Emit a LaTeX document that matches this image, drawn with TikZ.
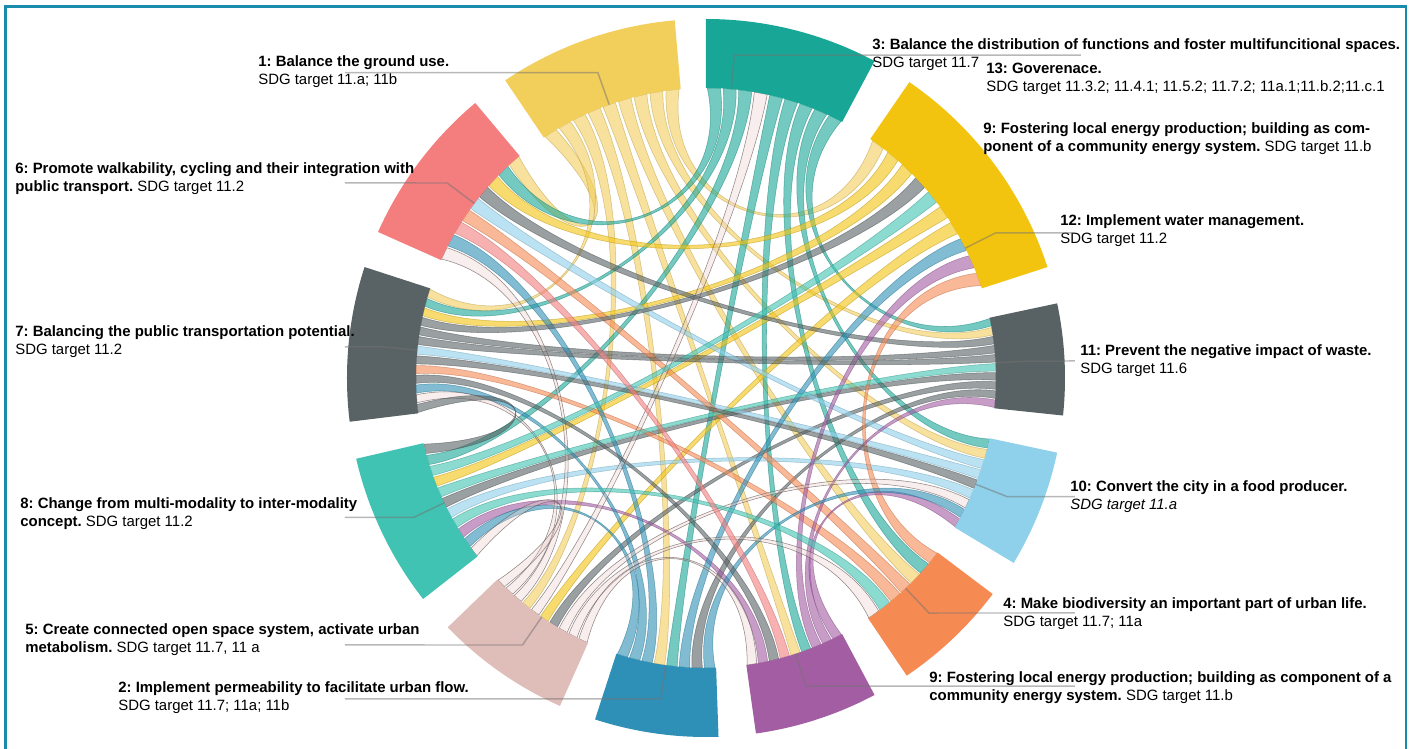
\documentclass[tikz,border=0pt]{standalone}
\usepackage{fontspec}
\setmainfont{Liberation Sans}
\usetikzlibrary{calc}
\frenchspacing

% segment colours
\definecolor{cGround}{RGB}{242,206,90}
\definecolor{cFunc}{RGB}{24,167,151}
\definecolor{cWater}{RGB}{242,196,15}
\definecolor{cWaste}{RGB}{88,97,99}
\definecolor{cFood}{RGB}{143,208,235}
\definecolor{cBio}{RGB}{246,138,83}
\definecolor{cEnergy}{RGB}{163,93,163}
\definecolor{cPerm}{RGB}{46,144,182}
\definecolor{cOpen}{RGB}{223,189,185}
\definecolor{cModal}{RGB}{64,195,179}
\definecolor{cTransit}{RGB}{89,98,100}
\definecolor{cWalk}{RGB}{244,126,126}
\definecolor{cFrame}{RGB}{24,140,170}

\newcommand\rin{290}
\newcommand\rout{359}
\newcommand\hub{165}

% segment: name, first angle, slot width, half ribbon width, middle angle
\newcommand\defseg[5]{%
  \expandafter\def\csname sgS#1\endcsname{#2}%
  \expandafter\def\csname sgD#1\endcsname{#3}%
  \expandafter\def\csname sgH#1\endcsname{#4}%
  \expandafter\def\csname sgM#1\endcsname{#5}}

% ribbon from slot #2 of segment #1 to slot #4 of segment #3
\newcommand\ribbon[5]{%
  \pgfmathsetmacro\rbSc{\csname sgS#1\endcsname+(#2+0.5)*\csname sgD#1\endcsname}%
  \pgfmathsetmacro\rbSa{\rbSc-\csname sgH#1\endcsname}%
  \pgfmathsetmacro\rbSb{\rbSc+\csname sgH#1\endcsname}%
  \pgfmathsetmacro\rbTc{\csname sgS#3\endcsname+(#4+0.5)*\csname sgD#3\endcsname}%
  \pgfmathsetmacro\rbTa{\rbTc-\csname sgH#3\endcsname}%
  \pgfmathsetmacro\rbTb{\rbTc+\csname sgH#3\endcsname}%
  % control angles pulled towards the middle of each segment
  \pgfmathsetmacro\rbCa{\csname sgM#1\endcsname+0.3*(\rbSa-\csname sgM#1\endcsname)}%
  \pgfmathsetmacro\rbCb{\csname sgM#1\endcsname+0.3*(\rbSb-\csname sgM#1\endcsname)}%
  \pgfmathsetmacro\rbDa{\csname sgM#3\endcsname+0.3*(\rbTa-\csname sgM#3\endcsname)}%
  \pgfmathsetmacro\rbDb{\csname sgM#3\endcsname+0.3*(\rbTb-\csname sgM#3\endcsname)}%
  \path[#5] (\rbSa:\rin) arc[start angle=\rbSa, end angle=\rbSb, radius=\rin]
    .. controls (\rbCb:\hub) and (\rbDa:\hub) .. (\rbTa:\rin)
    arc[start angle=\rbTa, end angle=\rbTb, radius=\rin]
    .. controls (\rbDb:\hub) and (\rbCa:\hub) .. (\rbSa:\rin) -- cycle;}

\defseg{Wa}{-6}{1.8}{0.75}{3}
\defseg{Wt}{18}{3.75}{1.3}{36.75}
\defseg{Fu}{62}{3.111}{1.3}{76}
\defseg{Gr}{95}{3.222}{1.3}{109.5}
\defseg{Wk}{130}{2.889}{1.25}{143}
\defseg{Tr}{162}{1.923}{0.8}{174.5}
\defseg{Mo}{193}{2.273}{0.95}{205.5}
\defseg{Op}{224}{2.2}{0.9}{235}
\defseg{Pe}{252}{2.5}{1.05}{262}
\defseg{En}{278}{2.222}{0.95}{288}
\defseg{Bi}{304}{2.714}{1.2}{313.5}
\defseg{Fo}{329}{2.111}{0.9}{338.5}

\begin{document}
\begin{tikzpicture}[x=0.02cm, y=0.02cm,
    rb/.style={fill=#1, fill opacity=0.6, draw=#1!75!black, draw opacity=0.55, line width=0.3pt},
    rbopen/.style={fill=cOpen!70, fill opacity=0.35, draw=cOpen!45!black, draw opacity=0.7, line width=0.3pt},
    lead/.style={draw=black!55, opacity=0.5, line width=0.85pt},
    lbl/.style={anchor=west, align=left, inner sep=0pt, font=\fontsize{8.5}{10.2}\selectfont},
    frame/.style={draw=cFrame, line width=1.7pt}]

    \useasboundingbox (-706,-371) rectangle (705,378);
    \fill[white] (-706,-371) rectangle (705,378);
    \draw[frame] (-700,-400) rectangle (700,371);

    % Ribbons
    \ribbon{Gr}{8}{Wk}{0}{rb=cGround}
    \ribbon{Gr}{7}{Tr}{0}{rb=cGround}
    \ribbon{Gr}{5}{Pe}{3}{rb=cGround}
    \ribbon{Gr}{4}{En}{4}{rb=cGround}
    \ribbon{Gr}{3}{Bi}{4}{rb=cGround}
    \ribbon{Gr}{2}{Fo}{7}{rb=cGround}
    \ribbon{Gr}{1}{Wa}{8}{rb=cGround}
    \ribbon{Gr}{0}{Wt}{9}{rb=cGround}
    \ribbon{Gr}{6}{Op}{3}{rb=cGround}
    \ribbon{Fu}{7}{Tr}{1}{rb=cFunc}
    \ribbon{Fu}{6}{Mo}{1}{rb=cFunc}
    \ribbon{Fu}{4}{Pe}{4}{rb=cFunc}
    \ribbon{Fu}{3}{En}{5}{rb=cFunc}
    \ribbon{Fu}{2}{Bi}{5}{rb=cFunc}
    \ribbon{Fu}{1}{Fo}{8}{rb=cFunc}
    \ribbon{Fu}{0}{Wa}{9}{rb=cFunc}
    \ribbon{Fu}{8}{Wk}{1}{rb=cFunc}
    \ribbon{Wt}{7}{Tr}{2}{rb=cWater}
    \ribbon{Wt}{8}{Wk}{2}{rb=cWater}
    \ribbon{Wt}{4}{Mo}{3}{rb=cWater}
    \ribbon{Wt}{3}{Op}{5}{rb=cWater}
    \ribbon{Wa}{6}{Tr}{4}{rb=cWaste}
    \ribbon{Wa}{3}{Mo}{5}{rb=cWaste}
    \ribbon{Wa}{7}{Wk}{3}{rb=cWaste}
    \ribbon{Wa}{2}{Op}{6}{rb=cWaste}
    \ribbon{Wa}{1}{Pe}{6}{rb=cWaste}
    \ribbon{Fo}{5}{Tr}{6}{rb=cFood}
    \ribbon{Fo}{3}{Mo}{6}{rb=cFood}
    \ribbon{Fo}{6}{Wk}{4}{rb=cFood}
    \ribbon{Bi}{3}{Wk}{5}{rb=cBio}
    \ribbon{Bi}{2}{Tr}{8}{rb=cBio}
    \ribbon{Bi}{6}{Wt}{0}{rb=cBio}
    \ribbon{En}{6}{Wt}{1}{rb=cEnergy}
    \ribbon{En}{7}{Wa}{0}{rb=cEnergy}
    \ribbon{En}{8}{Fo}{0}{rb=cEnergy}
    \ribbon{En}{1}{Mo}{8}{rb=cEnergy}
    \ribbon{Pe}{2}{Wk}{7}{rb=cPerm}
    \ribbon{Pe}{5}{Wt}{2}{rb=cPerm}
    \ribbon{Pe}{7}{Fo}{1}{rb=cPerm}
    \ribbon{Pe}{1}{Tr}{10}{rb=cPerm}
    \ribbon{Pe}{0}{Mo}{9}{rb=cPerm}
    \ribbon{Op}{4}{Fu}{5}{rbopen}
    \ribbon{Op}{7}{Fo}{2}{rbopen}
    \ribbon{Op}{8}{Bi}{0}{rbopen}
    \ribbon{Op}{9}{En}{0}{rbopen}
    \ribbon{Op}{2}{Wk}{8}{rbopen}
    \ribbon{Op}{1}{Tr}{11}{rbopen}
    \ribbon{Op}{0}{Mo}{10}{rbopen}
    \ribbon{Mo}{7}{Bi}{1}{rb=cModal}
    \ribbon{Mo}{4}{Wa}{4}{rb=cModal}
    \ribbon{Mo}{2}{Wt}{5}{rb=cModal}
    \ribbon{Tr}{5}{Wa}{5}{rb=cTransit}
    \ribbon{Tr}{3}{Wt}{6}{rb=cTransit}
    \ribbon{Tr}{7}{Fo}{4}{rb=cTransit}
    \ribbon{Tr}{9}{En}{2}{rb=cTransit}
    \ribbon{Tr}{12}{Mo}{0}{rb=cTransit}
    \ribbon{Wk}{6}{En}{3}{rb=cWalk}

    % Segments
    \fill[cWaste] (-6:\rin) arc[start angle=-6, end angle=12, radius=\rin] -- (12:\rout) arc[start angle=12, end angle=-6, radius=\rout] -- cycle;
    \fill[cWater] (18:\rin) arc[start angle=18, end angle=55.5, radius=\rin] -- (55.5:\rout) arc[start angle=55.5, end angle=18, radius=\rout] -- cycle;
    \fill[cFunc] (62:\rin) arc[start angle=62, end angle=90, radius=\rin] -- (90:\rout) arc[start angle=90, end angle=62, radius=\rout] -- cycle;
    \fill[cGround] (95:\rin) arc[start angle=95, end angle=124, radius=\rin] -- (124:\rout) arc[start angle=124, end angle=95, radius=\rout] -- cycle;
    \fill[cWalk] (130:\rin) arc[start angle=130, end angle=156, radius=\rin] -- (156:\rout) arc[start angle=156, end angle=130, radius=\rout] -- cycle;
    \fill[cTransit] (162:\rin) arc[start angle=162, end angle=187, radius=\rin] -- (187:\rout) arc[start angle=187, end angle=162, radius=\rout] -- cycle;
    \fill[cModal] (193:\rin) arc[start angle=193, end angle=218, radius=\rin] -- (218:\rout) arc[start angle=218, end angle=193, radius=\rout] -- cycle;
    \fill[cOpen] (224:\rin) arc[start angle=224, end angle=246, radius=\rin] -- (246:\rout) arc[start angle=246, end angle=224, radius=\rout] -- cycle;
    \fill[cPerm] (252:\rin) arc[start angle=252, end angle=272, radius=\rin] -- (272:\rout) arc[start angle=272, end angle=252, radius=\rout] -- cycle;
    \fill[cEnergy] (278:\rin) arc[start angle=278, end angle=298, radius=\rin] -- (298:\rout) arc[start angle=298, end angle=278, radius=\rout] -- cycle;
    \fill[cBio] (304:\rin) arc[start angle=304, end angle=323, radius=\rin] -- (323:\rout) arc[start angle=323, end angle=304, radius=\rout] -- cycle;
    \fill[cFood] (329:\rin) arc[start angle=329, end angle=348, radius=\rin] -- (348:\rout) arc[start angle=348, end angle=329, radius=\rout] -- cycle;

    % Labels, left side
    \node[lbl] (lGr) at (-448,306) {\textbf{1: Balance the ground use.}\\SDG target 11.a; 11b};
    \node[lbl] (lWk) at (-691,199) {\textbf{6: Promote walkability, cycling and their integration with}\\\textbf{public transport.} SDG target 11.2};
    \node[lbl] (lTr) at (-691,36) {\textbf{7: Balancing the public transportation potential.}\\SDG target 11.2};
    \node[lbl] (lMo) at (-686,-136) {\textbf{8: Change from multi-modality to inter-modality}\\\textbf{concept.} SDG target 11.2};
    \node[lbl] (lOp) at (-681,-262) {\textbf{5: Create connected open space system, activate urban}\\\textbf{metabolism.} SDG target 11.7, 11 a};
    \node[lbl] (lPe) at (-588,-320) {\textbf{2: Implement permeability to facilitate urban flow.}\\SDG target 11.7; 11a; 11b};

    % Labels, right side
    \node[lbl] (lFu) at (166,323) {\textbf{3: Balance the distribution of functions and foster multifuncitional spaces.}\\SDG target 11.7};
    \node[lbl] (lGov) at (280,299) {\textbf{13: Goverenace.}\\SDG target 11.3.2; 11.4.1; 11.5.2; 11.7.2; 11a.1;11.b.2;11.c.1};
    \node[lbl] (lEnTop) at (277,239) {\textbf{9: Fostering local energy production; building as com-}\\\textbf{ponent of a community energy system.} SDG target 11.b};
    \node[lbl] (lWt) at (354,147) {\textbf{12: Implement water management.}\\SDG target 11.2};
    \node[lbl] (lWa) at (374,17) {\textbf{11: Prevent the negative impact of waste.}\\SDG target 11.6};
    \node[lbl] (lFo) at (364,-119) {\textbf{10: Convert the city in a food producer.}\\\textit{SDG target 11.a}};
    \node[lbl] (lBi) at (297,-236) {\textbf{4: Make biodiversity an important part of urban life.}\\SDG target 11.7; 11a};
    \node[lbl] (lEn) at (223,-310) {\textbf{9: Fostering local energy production; building as component of a}\\\textbf{community energy system.} SDG target 11.b};

    % Leader lines
    \coordinate (sGr) at (-361,305.4);  \coordinate (bGr) at (109.5:324); \coordinate (iGr) at (109.5:\rin);
    \coordinate (sWk) at (-361,195.0);  \coordinate (bWk) at (143:324);   \coordinate (iWk) at (143:\rin);
    \coordinate (sTr) at (-361,31.0);   \coordinate (bTr) at (174.5:324); \coordinate (iTr) at (174.5:\rin);
    \coordinate (sMo) at (-361,-139.5); \coordinate (bMo) at (205.5:324); \coordinate (iMo) at (205.5:\rin);
    \coordinate (sOp) at (-361,-267.0); \coordinate (bOp) at (235.5:324); \coordinate (iOp) at (235.5:\rin);
    \coordinate (sPe) at (-361,-320.9); \coordinate (bPe) at (-98:324);   \coordinate (iPe) at (-98:\rin);
    \coordinate (sFu) at (375,322.8);   \coordinate (bFu) at (85:324);    \coordinate (iFu) at (85:\rin);
    \coordinate (sWt) at (369,145.1);   \coordinate (bWt) at (26.6:324);  \coordinate (iWt) at (26.6:\rin);
    \coordinate (sWa) at (369,17.0);    \coordinate (bWa) at (3:324);     \coordinate (iWa) at (3:\rin);
    \coordinate (sFo) at (369,-118.7);  \coordinate (bFo) at (-21.5:324); \coordinate (iFo) at (-21.5:\rin);
    \coordinate (sBi) at (369,-235.0);  \coordinate (bBi) at (-46.5:324); \coordinate (iBi) at (-46.5:\rin);
    \coordinate (sEn) at (369,-308.1);  \coordinate (bEn) at (-72:324);   \coordinate (iEn) at (-72:\rin);

    \draw[lead] (sGr) -- (bGr) -- (iGr);
    \draw[lead] (sWk) -- (bWk) -- (iWk);
    \draw[lead] (sTr) -- (bTr) -- (iTr);
    \draw[lead] (sMo) -- (bMo) -- (iMo);
    \draw[lead] (sOp) -- (bOp) -- (iOp);
    \draw[lead] (sPe) -- (bPe) -- (iPe);
    \draw[lead] (sFu) -- (bFu) -- (iFu);
    \draw[lead] (sWt) -- (bWt) -- (iWt);
    \draw[lead] (sWa) -- (bWa) -- (iWa);
    \draw[lead] (sFo) -- (bFo) -- (iFo);
    \draw[lead] (sBi) -- (bBi) -- (iBi);
    \draw[lead] (sEn) -- (bEn) -- (iEn);
\end{tikzpicture}
\end{document}
